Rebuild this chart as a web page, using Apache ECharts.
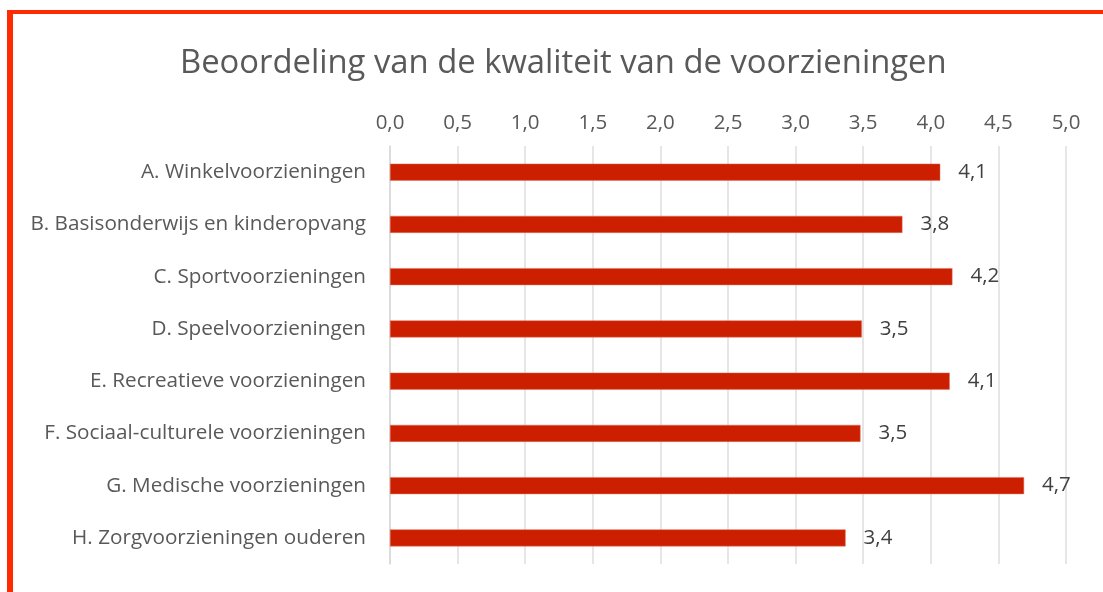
<!DOCTYPE html>
<html><head><meta charset="utf-8">
<script src="https://cdn.jsdelivr.net/npm/echarts@6/dist/echarts.min.js"></script>
<style>html,body{margin:0;padding:0;background:#fff}#c{width:1103px;height:592px}</style>
</head><body><div id="c"></div>
<script>
var titleText = 'Beoordeling van de kwaliteit van de voorzieningen';
var categories = ['A. Winkelvoorzieningen','B. Basisonderwijs en kinderopvang','C. Sportvoorzieningen','D. Speelvoorzieningen','E. Recreatieve voorzieningen','F. Sociaal-culturele voorzieningen','G. Medische voorzieningen','H. Zorgvoorzieningen ouderen'];
var values = [4.07, 3.79, 4.16, 3.49, 4.14, 3.48, 4.69, 3.37];
var axisMin = 0, axisMax = 5, axisStep = 0.5;

var chart = echarts.init(document.getElementById('c'), null, {renderer:'canvas'});
var font = '"Open Sans", "Noto Sans", sans-serif';
chart.setOption({
  animation:false,
  textStyle:{fontFamily:font},
  title:{text:titleText,left:175,top:42,textStyle:{fontFamily:font,fontSize:32.8,fontWeight:'normal',color:'#595959'}},
  graphic:[
    {type:'rect',shape:{x:7,y:10,width:1096,height:4},style:{fill:'#ff2a00'}},
    {type:'rect',shape:{x:7,y:10,width:6,height:582},style:{fill:'#ff2a00'}}
  ],
  grid:{left:390,right:37,top:146,bottom:28,containLabel:false},
  xAxis:{type:'value',position:'top',min:axisMin,max:axisMax,interval:axisStep,
    axisLine:{show:false},axisTick:{show:false},
    axisLabel:{color:'#595959',fontSize:20.5,margin:12,fontFamily:font,formatter:function(v){return v.toFixed(1).replace('.',',');}},
    splitLine:{lineStyle:{color:'#dedede',width:1.5}}},
  yAxis:{type:'category',data:categories,inverse:true,
    axisLine:{show:true,lineStyle:{color:'#d9d9d9',width:1.5}},axisTick:{show:false},
    axisLabel:{color:'#595959',fontSize:20.7,margin:24,fontFamily:font}},
  series:[{type:'bar',data:values,barWidth:17,
    itemStyle:{color:'#cc1f00',borderColor:'#e0705c',borderWidth:0.5},
    label:{show:true,position:'right',distance:18,color:'#404040',fontSize:20.5,fontFamily:font,
      formatter:function(p){return p.value.toFixed(1).replace('.',',');}}}]
});
</script></body></html>
